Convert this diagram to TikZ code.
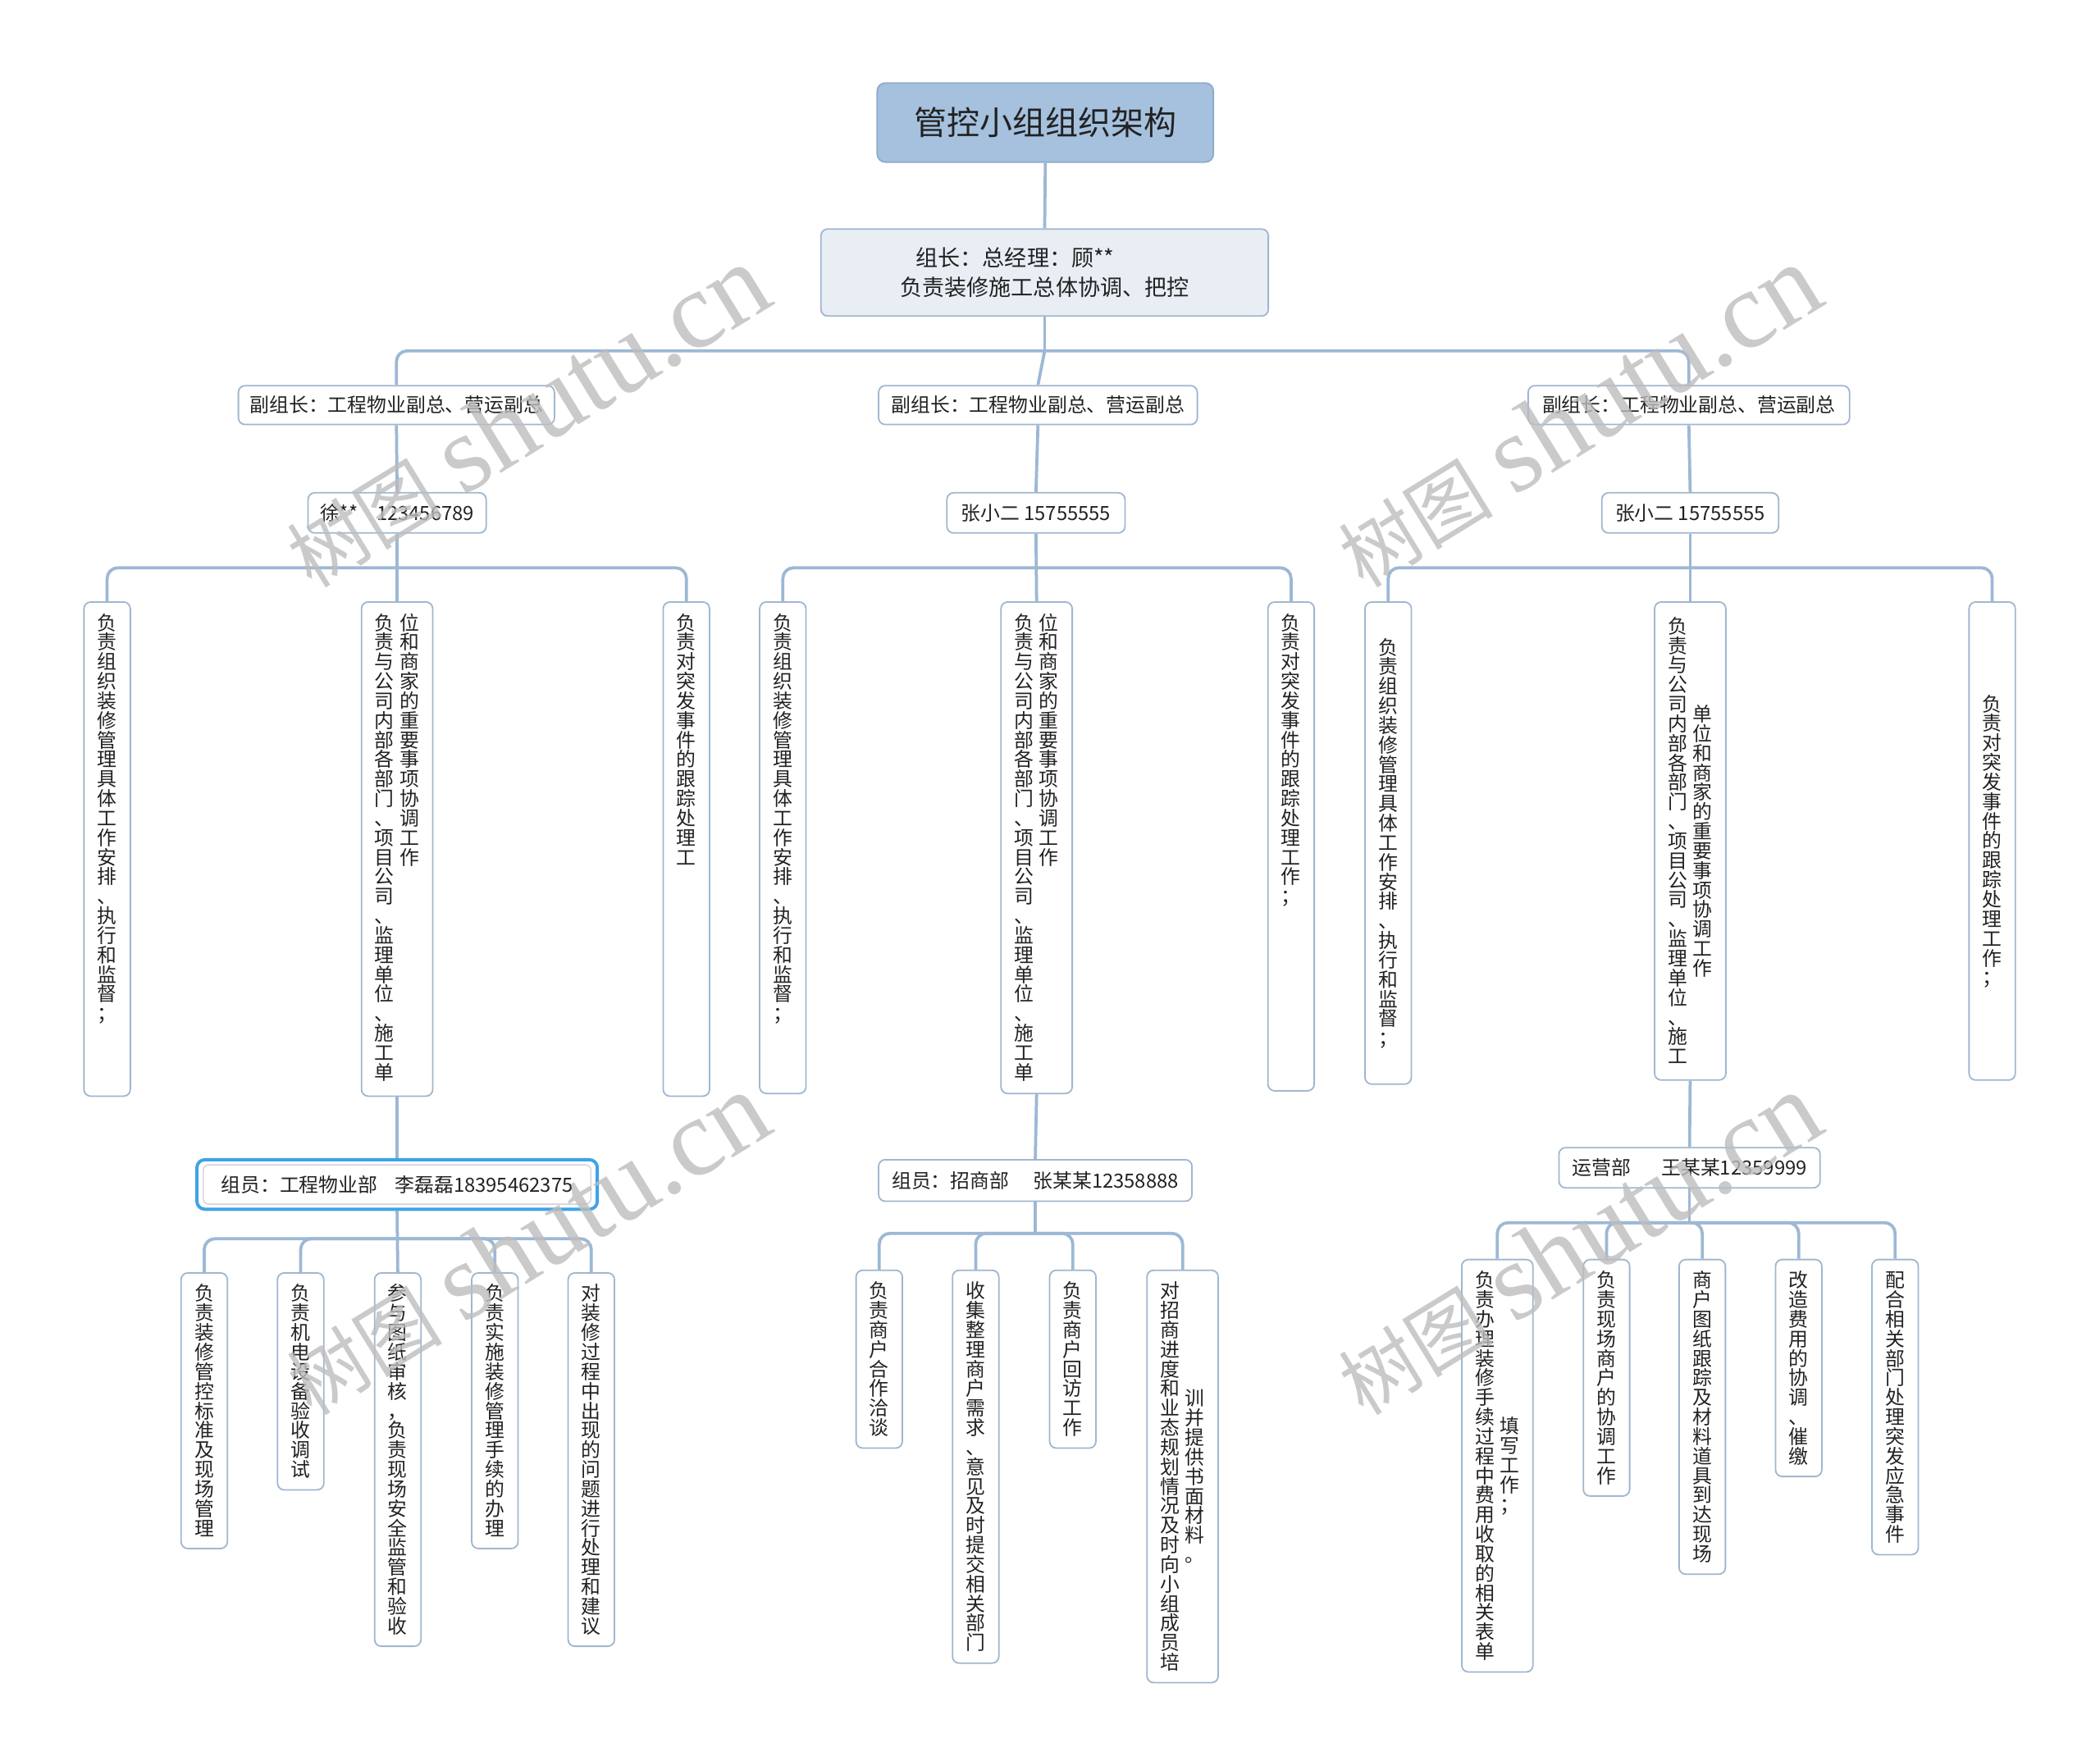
\documentclass[tikz,border=0pt]{standalone}
\usepackage{fontspec}
\setmainfont{Noto Sans CJK SC}
\newfontfamily\wmlatin{Liberation Serif}
\usetikzlibrary{calc,backgrounds}
\definecolor{connc}{HTML}{9DB8D5}
\definecolor{bordc}{HTML}{A0B7CF}
\definecolor{rootf}{HTML}{A5C1DE}
\definecolor{rootb}{HTML}{8FADCD}
\definecolor{leadf}{HTML}{E8EEF4}
\definecolor{selc}{HTML}{3FA3E6}
\definecolor{txt}{HTML}{222222}
\definecolor{wmc}{HTML}{BDBDBD}

\ExplSyntaxOn
\cs_new:Npn \vcx_cell:n #1 { \hbox_to_wd:nn {1em} { \hss \rule[-0.12em]{0pt}{1em} #1 \hss } }
\NewDocumentCommand \vcolT { m } { \vtop { \offinterlineskip \tl_map_function:nN {#1} \vcx_cell:n } }
\NewDocumentCommand \vcolC { m } { \ensuremath { \vcenter { \offinterlineskip \tl_map_function:nN {#1} \vcx_cell:n } } }
\ExplSyntaxOff
\newcommand\topfill[2]{\vbox to #1{\hbox{#2}\vss}}
\newcommand\midfill[2]{\vbox to #1{\vss\hbox{#2}\vss}}

\begin{document}
\begin{tikzpicture}[x=1pt,y=-1pt, font=\fontsize{14.6}{17.5}\selectfont,
  box/.style={draw=bordc, line width=1.1pt, rounded corners=5pt, fill=white, inner sep=0pt, text=txt},
  hnode/.style={box},
  vnode/.style={box, anchor=north, inner xsep=10pt, inner ysep=8pt},
  link/.style={draw=connc, line width=2.3pt, rounded corners=8pt},
  wm/.style={text=wmc, opacity=0.8, rotate=31.6, anchor=base west, inner sep=0pt}]
\useasboundingbox (0,0) rectangle (1568,1315);

% ---- level 0/1
\node[box, draw=rootb, fill=rootf, line width=1.2pt, rounded corners=6pt, minimum width=251pt, minimum height=59pt, font=\fontsize{24.5}{29}\selectfont] (root) at (780.5,91.5) {管控小组组织架构};
\node[box, fill=leadf, minimum width=334pt, minimum height=65pt, align=center, font=\fontsize{16.6}{22}\selectfont] (lead) at (780,203.5) {组长：总经理：顾**\hspace*{44pt}\\负责装修施工总体协调、把控};

% ---- level 2
\node[hnode, minimum width=236pt, minimum height=29pt] (v1) at (296,302.5) {副组长：工程物业副总、营运副总};
\node[hnode, minimum width=238pt, minimum height=29pt] (v2) at (775,302.5) {副组长：工程物业副总、营运副总};
\node[hnode, minimum width=240pt, minimum height=29pt] (v3) at (1261,302.5) {副组长：工程物业副总、营运副总};

\node[hnode, minimum width=133pt, minimum height=30pt] (p1) at (296.5,383) {徐**\hspace{14pt}123456789};
\node[hnode, minimum width=133pt, minimum height=30pt] (p2) at (773.5,383) {张小二 15755555};
\node[hnode, minimum width=132pt, minimum height=30pt] (p3) at (1262,383) {张小二 15755555};

% ---- level 3
\node[vnode] (c1) at (80,449) {\topfill{353pt}{\vcolT{负责组织装修管理具体工作安排、执行和监督；}}};
\node[vnode] (c2) at (296.5,449) {\topfill{353pt}{\vcolT{负责与公司内部各部门、项目公司、监理单位、施工单}\kern4pt\vcolT{位和商家的重要事项协调工作}}};
\node[vnode] (c3) at (512.5,449) {\topfill{353pt}{\vcolT{负责对突发事件的跟踪处理工}}};

\node[vnode] (m1) at (584.5,449) {\topfill{351pt}{\vcolT{负责组织装修管理具体工作安排、执行和监督；}}};
\node[vnode] (m2) at (774,449) {\topfill{351pt}{\vcolT{负责与公司内部各部门、项目公司、监理单位、施工单}\kern4pt\vcolT{位和商家的重要事项协调工作}}};
\node[vnode] (m3) at (964,449) {\topfill{349pt}{\vcolT{负责对突发事件的跟踪处理工作；}}};

\node[vnode] (r1) at (1036.5,449) {\midfill{344pt}{\vcolC{负责组织装修管理具体工作安排、执行和监督；}}};
\node[vnode] (r2) at (1262,449) {\midfill{341pt}{\vcolC{负责与公司内部各部门、项目公司、监理单位、施工}\kern4pt\vcolC{单位和商家的重要事项协调工作}}};
\node[vnode] (r3) at (1487.5,449) {\midfill{341pt}{\vcolC{负责对突发事件的跟踪处理工作；}}};

% ---- group members
\node[box, draw=selc, line width=2.4pt, rounded corners=6pt, minimum width=299pt, minimum height=37pt] (g1) at (296.5,884.5) {组员：工程物业部\hspace{13pt}李磊磊18395462375};
\draw[draw=gray!35, line width=0.8pt, rounded corners=4pt] ($(g1.north west)+(6,5)$) rectangle ($(g1.south east)+(-6,-5)$);
\node[box, minimum width=234pt, minimum height=31pt] (g2) at (773,881.5) {组员：招商部\hspace{18pt}张某某12358888};
\node[box, minimum width=195pt, minimum height=30pt] (g3) at (1261.5,872) {运营部\hspace{23pt}王某某12359999};

% ---- leaves
\node[vnode] (d1) at (152.5,950) {\vcolT{负责装修管控标准及现场管理}};
\node[vnode] (d2) at (224.5,950) {\vcolT{负责机电设备验收调试}};
\node[vnode] (d3) at (297,950) {\vcolT{参与图纸审核，负责现场安全监管和验收}};
\node[vnode] (d4) at (369.5,950) {\vcolT{负责实施装修管理手续的办理}};
\node[vnode] (d5) at (441.5,950) {\vcolT{对装修过程中出现的问题进行处理和建议}};

\node[vnode] (n1) at (656.5,948) {\vcolT{负责商户合作洽谈}};
\node[vnode] (n2) at (728.5,948) {\vcolT{收集整理商户需求、意见及时提交相关部门}};
\node[vnode] (n3) at (801,948) {\vcolT{负责商户回访工作}};
\node[vnode] (n4) at (883,948) {\hbox{\vcolC{对招商进度和业态规划情况及时向小组成员培}\kern4pt\vcolC{训并提供书面材料。}}};

\node[vnode] (s1) at (1118,940) {\hbox{\vcolC{负责办理装修手续过程中费用收取的相关表单}\kern4pt\vcolC{填写工作；}}};
\node[vnode] (s2) at (1199.5,940) {\vcolT{负责现场商户的协调工作}};
\node[vnode] (s3) at (1271,940) {\vcolT{商户图纸跟踪及材料道具到达现场}};
\node[vnode] (s4) at (1343,940) {\vcolT{改造费用的协调、催缴}};
\node[vnode] (s5) at (1415,940) {\vcolT{配合相关部门处理突发应急事件}};

% ---- connectors
\coordinate (bA) at (0,262);
\coordinate (bB) at (0,424);
\coordinate (bL) at (0,925);
\coordinate (bM) at (0,921);
\coordinate (bR) at (0,913);
\begin{scope}[on background layer]
\fill[white] (0,0) rectangle (1568,1315);
\draw[link] (root.south) -- (lead.north);
\draw[link] (lead.south) -- (lead.south |- bA);
\draw[link] (lead.south |- bA) -| (v1.north);
\draw[link] (lead.south |- bA) -- (v2.north);
\draw[link] (lead.south |- bA) -| (v3.north);
\foreach \i in {1,2,3} \draw[link] (v\i.south) -- (p\i.north);
% left
\draw[link] (p1.south) -- (c2.north);
\draw[link] (p1.south |- bB) -| (c1.north);
\draw[link] (p1.south |- bB) -| (c3.north);
% middle
\draw[link] (p2.south) -- (m2.north);
\draw[link] (p2.south |- bB) -| (m1.north);
\draw[link] (p2.south |- bB) -| (m3.north);
% right
\draw[link] (p3.south) -- (r2.north);
\draw[link] (p3.south |- bB) -| (r1.north);
\draw[link] (p3.south |- bB) -| (r3.north);
% members
\draw[link] (c2.south) -- (g1.north);
\draw[link] (m2.south) -- (g2.north);
\draw[link] (r2.south) -- (g3.north);
\draw[link] (g1.south) -- (d3.north);
\foreach \t in {d1,d2,d4,d5} \draw[link] (g1.south |- bL) -| (\t.north);
\draw[link] (g2.south) -- (g2.south |- bM);
\foreach \t in {n1,n2,n3,n4} \draw[link] (g2.south |- bM) -| (\t.north);
\draw[link] (g3.south) -- (g3.south |- bR);
\foreach \t in {s1,s2,s3,s4,s5} \draw[link] (g3.south |- bR) -| (\t.north);
\end{scope}

% ---- watermarks
\node[wm] (w1) at (233,440) {{\fontsize{58}{58}\selectfont 树图}\hspace{16pt}{\wmlatin\fontsize{82}{82}\selectfont shutu.cn}};
\node[wm] (w2) at (1018,440) {{\fontsize{58}{58}\selectfont 树图}\hspace{16pt}{\wmlatin\fontsize{82}{82}\selectfont shutu.cn}};
\node[wm] (w3) at (233,1058) {{\fontsize{58}{58}\selectfont 树图}\hspace{16pt}{\wmlatin\fontsize{82}{82}\selectfont shutu.cn}};
\node[wm] (w4) at (1018,1058) {{\fontsize{58}{58}\selectfont 树图}\hspace{16pt}{\wmlatin\fontsize{82}{82}\selectfont shutu.cn}};
\end{tikzpicture}
\end{document}
